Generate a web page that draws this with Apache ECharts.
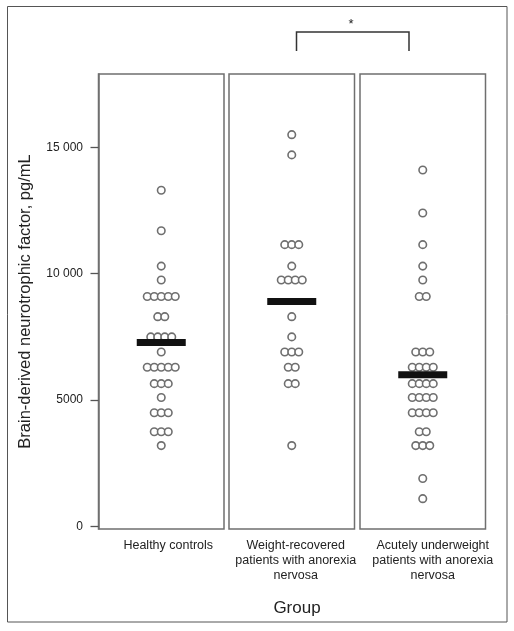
<!DOCTYPE html>
<html>
<head>
<meta charset="utf-8">
<script src="https://cdn.jsdelivr.net/npm/echarts@6/dist/echarts.min.js"></script>
<style>
html,body{margin:0;padding:0;background:#fff;}
#chart{width:514px;height:631px;}
</style>
</head>
<body>
<div id="chart"></div>
<script>
// ---- data ----
const categories = [
  'Healthy controls',
  'Weight-recovered\npatients with anorexia\nnervosa',
  'Acutely underweight\npatients with anorexia\nnervosa'
];
const healthy = [13300, 11700, 10300, 9750,
  9100, 9100, 9100, 9100, 9100,
  8300, 8300,
  7500, 7500, 7500, 7500,
  6900,
  6300, 6300, 6300, 6300, 6300,
  5650, 5650, 5650,
  5100,
  4500, 4500, 4500,
  3750, 3750, 3750,
  3200];
const recovered = [15500, 14700,
  11150, 11150, 11150,
  10300,
  9750, 9750, 9750, 9750,
  8300, 7500,
  6900, 6900, 6900,
  6300, 6300,
  5650, 5650,
  3200];
const underweight = [14100, 12400, 11150, 10300, 9750,
  9100, 9100,
  6900, 6900, 6900,
  6300, 6300, 6300, 6300,
  5650, 5650, 5650, 5650,
  5100, 5100, 5100, 5100,
  4500, 4500, 4500, 4500,
  3750, 3750,
  3200, 3200, 3200,
  1900, 1100];
const means = [7280, 8900, 6000];
const yTicks = [0, 5000, 10000, 15000];
const yName = 'Brain-derived neurotrophic factor, pg/mL';
const xName = 'Group';

// ---- layout ----
const groups = [healthy, recovered, underweight];
const gridLefts = [98.5, 229, 360];
const gridWidth = 125.5;
const labelShift = [7, 4, 10];
const DOT_SPACING = 7;

function dotItems(values) {
  const counts = {};
  values.forEach(v => { counts[v] = (counts[v] || 0) + 1; });
  const seen = {};
  return values.map(v => {
    const n = counts[v];
    const i = seen[v] || 0;
    seen[v] = i + 1;
    return { value: [0, v], symbolOffset: [(i - (n - 1) / 2) * DOT_SPACING, 0] };
  });
}

const FONT = 'Liberation Sans, Arial, Helvetica, sans-serif';
const grids = [], xAxes = [], yAxes = [], series = [];
groups.forEach((vals, gi) => {
  grids.push({
    left: gridLefts[gi], width: gridWidth, top: 74, bottom: 102,
    show: true, borderColor: '#6f6f6f', borderWidth: 1.5, backgroundColor: 'transparent'
  });
  xAxes.push({
    type: 'category', gridIndex: gi, data: [categories[gi]],
    axisLine: { show: false }, axisTick: { show: false },
    axisLabel: {
      interval: 0, margin: 9, fontSize: 12.5, lineHeight: 15, color: '#222',
      fontFamily: FONT, padding: [0, 0, 0, 2 * labelShift[gi]]
    }
  });
  yAxes.push({
    type: 'value', gridIndex: gi, min: -100, max: 17900,
    splitLine: { show: false },
    axisLine: { show: gi === 0, lineStyle: { color: '#6f6f6f', width: 1.5 } },
    axisTick: gi === 0 ? { show: true, length: 8, customValues: yTicks, lineStyle: { color: '#555', width: 1.3 } } : { show: false },
    axisLabel: gi === 0 ? {
      show: true, customValues: yTicks, margin: 15.5, fontSize: 12, color: '#222', fontFamily: FONT,
      formatter: v => v >= 10000 ? String(v).replace(/\B(?=(\d{3})+(?!\d))/g, ' ') : String(v)
    } : { show: false },
    name: gi === 0 ? yName : '',
    nameLocation: 'middle', nameGap: 65,
    nameTextStyle: { fontSize: 16.5, color: '#222', fontFamily: FONT }
  });
  series.push({
    type: 'scatter', xAxisIndex: gi, yAxisIndex: gi,
    symbol: 'circle', symbolSize: 7.5,
    itemStyle: { color: '#fff', borderColor: '#6f6f6f', borderWidth: 1.6, opacity: 1 },
    data: dotItems(vals), z: 2, silent: true
  });
  series.push({
    type: 'scatter', xAxisIndex: gi, yAxisIndex: gi,
    symbol: 'rect', symbolSize: [49, 7],
    itemStyle: { color: '#111', opacity: 1 },
    data: [[0, means[gi]]], z: 3, silent: true
  });
});

const chart = echarts.init(document.getElementById('chart'), null, { renderer: 'canvas' });
chart.setOption({
  animation: false,
  backgroundColor: '#fff',
  grid: grids, xAxis: xAxes, yAxis: yAxes, series: series,
  graphic: [
    { type: 'rect', shape: { x: 7.5, y: 6.5, width: 499.5, height: 615.5 },
      style: { fill: 'none', stroke: '#555', lineWidth: 1 }, silent: true },
    { type: 'polyline', shape: { points: [[296.5, 51], [296.5, 32], [409, 32], [409, 51]] },
      style: { fill: 'none', stroke: '#333', lineWidth: 1.5 }, silent: true },
    { type: 'text', x: 351, y: 24,
      style: { text: '*', fontSize: 13, fill: '#222', align: 'center', verticalAlign: 'middle', fontFamily: FONT } },
    { type: 'text', x: 297, y: 608,
      style: { text: xName, fontSize: 17, fill: '#222', align: 'center', verticalAlign: 'middle', fontFamily: FONT } }
  ]
});
</script>
</body>
</html>
